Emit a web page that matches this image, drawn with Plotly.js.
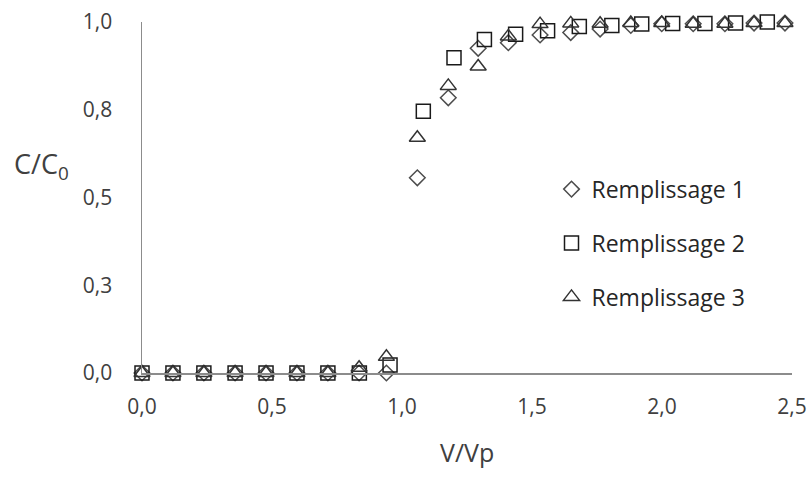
<!DOCTYPE html>
<html>
<head>
<meta charset="utf-8">
<script src="https://cdn.plot.ly/plotly-3.0.1.min.js"></script>
<style>html,body{margin:0;padding:0;background:#fff;}#chart{width:812px;height:479px;}</style>
</head>
<body>
<div id="chart"></div>
<script>
// Remplissage 1 (diamonds)
const x1 = [0, 0.119, 0.238, 0.358, 0.477, 0.596, 0.715, 0.835, 0.940, 1.059, 1.178, 1.293, 1.409, 1.531, 1.649, 1.762, 1.880, 1.999, 2.120, 2.242, 2.354, 2.473];
const y1 = [0, 0, 0, 0, 0, 0, 0, 0, 0, 0.556, 0.784, 0.925, 0.941, 0.963, 0.970, 0.980, 0.990, 0.995, 0.995, 0.995, 0.997, 0.997];
// Remplissage 2 (squares)
const x2 = [0, 0.119, 0.238, 0.358, 0.477, 0.596, 0.715, 0.836, 0.954, 1.082, 1.200, 1.317, 1.437, 1.560, 1.682, 1.807, 1.922, 2.041, 2.165, 2.283, 2.405];
const y2 = [0, 0, 0, 0, 0, 0, 0, 0, 0.023, 0.746, 0.898, 0.950, 0.965, 0.975, 0.987, 0.990, 0.994, 0.996, 0.996, 0.997, 1.0];
// Remplissage 3 (triangles)
const x3 = [0, 0.119, 0.238, 0.358, 0.477, 0.596, 0.715, 0.835, 0.940, 1.059, 1.178, 1.293, 1.409, 1.531, 1.649, 1.762, 1.880, 1.999, 2.120, 2.242, 2.354, 2.473];
const y3 = [0, 0, 0, 0, 0, 0, 0, 0.015, 0.046, 0.670, 0.818, 0.873, 0.959, 0.994, 0.996, 0.995, 0.997, 0.997, 0.995, 0.995, 0.997, 0.997];

const seriesNames = ["Remplissage 1", "Remplissage 2", "Remplissage 3"];
const xTickVals = [0, 0.5, 1, 1.5, 2, 2.5];
const xTickText = ["0,0", "0,5", "1,0", "1,5", "2,0", "2,5"];
const yTickVals = [0, 0.25, 0.5, 0.75, 1];
const yTickText = ["0,0", "0,3", "0,5", "0,8", "1,0"];
const xTitle = "V/Vp";
const yTitle = "C/C<sub>0</sub>";

const FONT = "Open Sans, sans-serif";

const traces = [
  {x: x1, y: y1, name: seriesNames[0], type: "scatter", mode: "markers", cliponaxis: false,
   legendgroup: "g1",
   marker: {symbol: "diamond-open", size: 12, color: "#4d4d4d", line: {width: 1.5, color: "#4d4d4d"}}},
  {x: x2, y: y2, name: seriesNames[1], type: "scatter", mode: "markers", cliponaxis: false,
   legendgroup: "g2",
   marker: {symbol: "square-open", size: 14, color: "#1a1a1a", line: {width: 1.5, color: "#1a1a1a"}}},
  {x: x3, y: y3, name: seriesNames[2], type: "scatter", mode: "markers", cliponaxis: false,
   legendgroup: "g3",
   marker: {symbol: "triangle-up-open", size: 14, color: "#333333", line: {width: 1.5, color: "#333333"}}}
];

const layout = {
  width: 812, height: 479,
  margin: {l: 142, r: 20, t: 22, b: 106, pad: 0},
  paper_bgcolor: "#ffffff", plot_bgcolor: "#ffffff",
  font: {family: FONT, color: "#404040", size: 21},
  showlegend: true,
  legend: {
    x: 0.63, y: 0.585, xanchor: "left", yanchor: "top",
    font: {family: FONT, size: 23, color: "#262626"},
    bgcolor: "rgba(0,0,0,0)", borderwidth: 0,
    traceorder: "grouped", tracegroupgap: 21, itemsizing: "trace"
  },
  xaxis: {
    range: [0, 2.5], tickmode: "array", tickvals: xTickVals, ticktext: xTickText,
    showgrid: false, zeroline: false, showline: true, linecolor: "#8c8c8c", linewidth: 1.5,
    ticks: "", ticklabelstandoff: 14, tickfont: {family: FONT, size: 21, color: "#404040"},
    fixedrange: true
  },
  yaxis: {
    range: [0, 1], tickmode: "array", tickvals: yTickVals, ticktext: yTickText,
    showgrid: false, zeroline: false, showline: true, linecolor: "#8c8c8c", linewidth: 1.5,
    ticks: "", ticklabelstandoff: 24, tickfont: {family: FONT, size: 21, color: "#404040"},
    fixedrange: true
  },
  annotations: [
    {text: xTitle, xref: "paper", yref: "paper", x: 0.5, y: -0.225, xanchor: "center", yanchor: "middle",
     showarrow: false, font: {family: FONT, size: 25, color: "#404040"}},
    {text: yTitle, xref: "paper", yref: "paper", x: -0.2, y: 0.59, xanchor: "left", yanchor: "middle",
     showarrow: false, font: {family: FONT, size: 27, color: "#404040"}}
  ]
};

Plotly.newPlot("chart", traces, layout, {displayModeBar: false, staticPlot: true});
</script>
</body>
</html>
